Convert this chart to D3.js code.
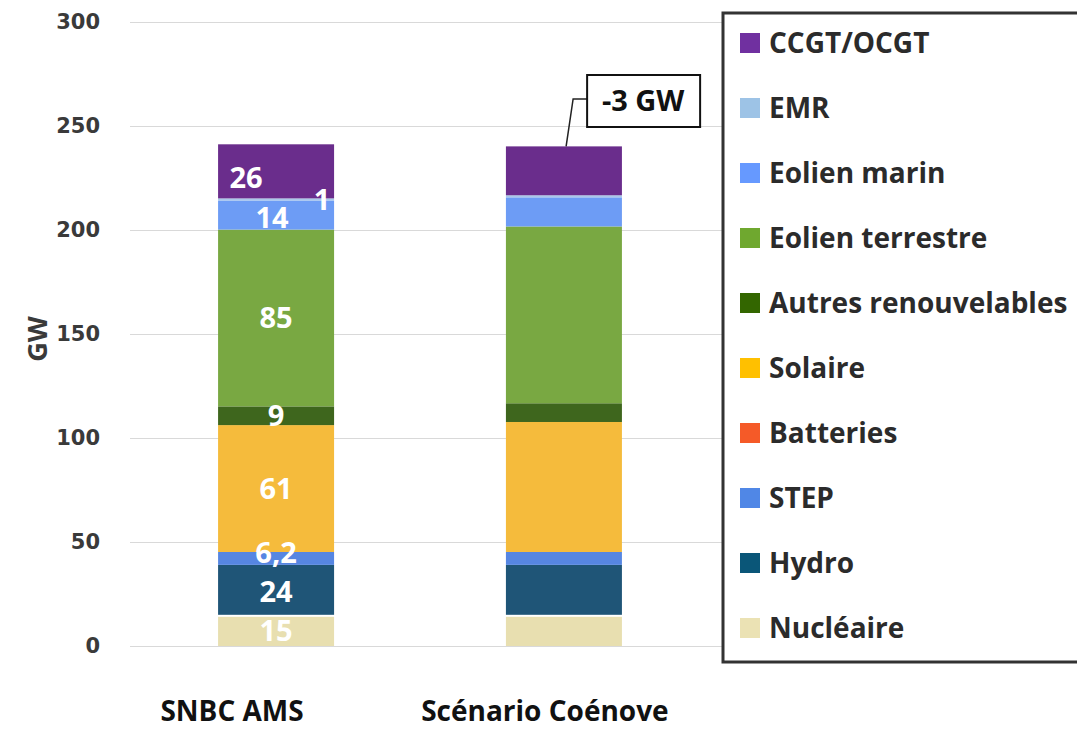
<!DOCTYPE html>
<html>
<head>
<meta charset="utf-8">
<script src="https://cdn.jsdelivr.net/npm/d3@7"></script>
<style>
	body { margin: 0; background: #fff; }
	text { font-family: "Open Sans", sans-serif; font-weight: bold; }
</style>
</head>
<body>
<svg id="svg" width="1077" height="731"></svg>
<script>
"use strict";

// data
const categories = ["SNBC AMS", "Scénario Coénove"];
const series = [
	"Nucléaire",
	"Hydro",
	"STEP",
	"Batteries",
	"Solaire",
	"Autres renouvelables",
	"Eolien terrestre",
	"Eolien marin",
	"EMR",
	"CCGT/OCGT",
];
const snbcValues = [15, 24, 6.2, 0, 61, 9, 85, 14, 1, 26];
const coenoveValues = [15, 24, 6.2, 0, 62.5, 9, 85, 14, 1, 23.5];
const snbcLabels = ["15", "24", "6,2", "", "61", "9", "85", "14", "1", "26"];
const yTicks = [0, 50, 100, 150, 200, 250, 300];
const calloutText = "-3 GW";
const yTitle = "GW";

// colours
const barColors = {
	"Nucléaire": "#e8dfb0",
	"Hydro": "#1f5577",
	"STEP": "#5686e2",
	"Batteries": "#f55a2a",
	"Solaire": "#f5bb3c",
	"Autres renouvelables": "#3e661d",
	"Eolien terrestre": "#79a842",
	"Eolien marin": "#6d9cf5",
	"EMR": "#a9c8ea",
	"CCGT/OCGT": "#6a2d8c",
};
const legendColors = {
	"Nucléaire": "#ebe2b4",
	"Hydro": "#0a5678",
	"STEP": "#5087e6",
	"Batteries": "#f55a28",
	"Solaire": "#ffc000",
	"Autres renouvelables": "#336600",
	"Eolien terrestre": "#6fa82f",
	"Eolien marin": "#6699ff",
	"EMR": "#9dc3e6",
	"CCGT/OCGT": "#7030a0",
};

// label nudges (px) for the crowded segments
const labelNudge = {
	"CCGT/OCGT": [-30, 6],
	"EMR": [46, 0],
	"Eolien marin": [-4, 3],
	"STEP": [0, -6],
	"Hydro": [0, 2],
};

const svg = d3.select("#svg");

const table = categories.map((c, i) => {
	const row = { cat: c };
	const vals = i === 0 ? snbcValues : coenoveValues;
	series.forEach((s, j) => (row[s] = vals[j]));
	return row;
});
const stacked = d3.stack().keys(series)(table);

// scales
const y = d3.scaleLinear().domain([0, 300]).range([646, 22]);
const x = d3
	.scaleBand()
	.domain(categories)
	.range([130, 710])
	.paddingInner(0.597)
	.paddingOuter(0.306);

// gridlines + tick labels
const yAxis = svg
	.append("g")
	.attr("transform", "translate(130,0)")
	.call(
		d3.axisLeft(y).tickValues(yTicks).tickSize(-592).tickPadding(30)
	);
yAxis.select(".domain").remove();
yAxis.selectAll("line").attr("stroke", "#d9d9d9").attr("stroke-width", 1.2);
yAxis
	.selectAll("text")
	.attr("fill", "#3a3a3a")
	.style("font-family", "'DejaVu Sans', sans-serif")
	.style("font-size", "21px");

// y title
svg.append("text")
	.attr("transform", "translate(47,339) rotate(-90)")
	.attr("text-anchor", "middle")
	.attr("fill", "#3a3a3a")
	.style("font-size", "27px")
	.text(yTitle);

// bars
const layers = svg
	.append("g")
	.selectAll("g")
	.data(stacked)
	.enter()
	.append("g")
	.attr("fill", (d) => barColors[d.key]);

layers
	.selectAll("rect")
	.data((d) => d.map((v) => Object.assign(v, { key: d.key })))
	.enter()
	.append("rect")
	.attr("x", (d) => x(d.data.cat))
	.attr("width", x.bandwidth())
	.attr("y", (d) => y(d[1]) + (d.key === "Nucléaire" ? 2 : 0))
	.attr("height", (d) =>
		Math.max(0, y(d[0]) - y(d[1]) - (d.key === "Nucléaire" ? 2 : 0))
	);

// value labels on first bar
const first = stacked.map((layer, j) => ({
	key: layer.key,
	seg: layer[0],
	label: snbcLabels[j],
}));
svg.append("g")
	.selectAll("text")
	.data(first.filter((d) => d.label !== ""))
	.enter()
	.append("text")
	.attr("x", (d) => {
		const n = labelNudge[d.key] || [0, 0];
		return x(categories[0]) + x.bandwidth() / 2 + n[0];
	})
	.attr("y", (d) => {
		const n = labelNudge[d.key] || [0, 0];
		return (y(d.seg[0]) + y(d.seg[1])) / 2 + n[1];
	})
	.attr("dy", "0.36em")
	.attr("text-anchor", "middle")
	.attr("fill", "#fff")
	.style("font-size", "29px")
	.text((d) => d.label);

// category labels
const catShift = [-44, -19];
svg.append("g")
	.selectAll("text")
	.data(categories)
	.enter()
	.append("text")
	.attr("x", (d, i) => x(d) + x.bandwidth() / 2 + catShift[i])
	.attr("y", 721)
	.attr("text-anchor", "middle")
	.attr("fill", "#111")
	.style("font-size", "28px")
	.text((d) => d);

// callout on second bar
const top2 = y(d3.sum(coenoveValues));
const bx = x(categories[1]) + x.bandwidth() * 0.7;
const call = svg.append("g");
call.append("path")
	.attr("d", `M${bx},99 H${bx - 14} L${bx - 21},${top2}`)
	.attr("fill", "none")
	.attr("stroke", "#222")
	.attr("stroke-width", 1.5);
call.append("rect")
	.attr("x", bx)
	.attr("y", 75)
	.attr("width", 113)
	.attr("height", 52)
	.attr("fill", "#fff")
	.attr("stroke", "#111")
	.attr("stroke-width", 2);
call.append("text")
	.attr("x", bx + 56)
	.attr("y", 101)
	.attr("dy", "0.36em")
	.attr("text-anchor", "middle")
	.attr("fill", "#111")
	.style("font-size", "29px")
	.text(calloutText);

// legend
const legend = svg.append("g");
legend
	.append("rect")
	.attr("x", 723)
	.attr("y", 13)
	.attr("width", 400)
	.attr("height", 649)
	.attr("fill", "#fff")
	.attr("stroke", "#333")
	.attr("stroke-width", 3);

const legendItems = series.slice().reverse();
const ly = d3
	.scalePoint()
	.domain(legendItems)
	.range([43, 628]);

const item = legend
	.selectAll(".item")
	.data(legendItems)
	.enter()
	.append("g")
	.attr("class", "item")
	.attr("transform", (d) => `translate(740,${ly(d)})`);
item.append("rect")
	.attr("y", -10)
	.attr("width", 20)
	.attr("height", 20)
	.attr("fill", (d) => legendColors[d]);
item.append("text")
	.attr("x", 29)
	.attr("dy", "0.36em")
	.attr("fill", "#2b2b2b")
	.style("font-size", "28px")
	.text((d) => d);
</script>
</body>
</html>
